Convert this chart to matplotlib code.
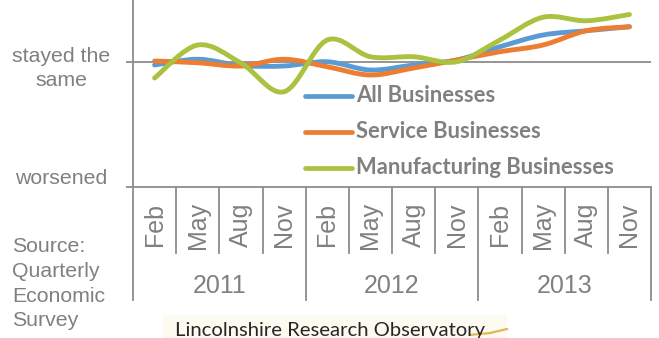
import numpy as np
import matplotlib
matplotlib.use("Agg")
import matplotlib.pyplot as plt
from matplotlib.path import Path
from matplotlib.patches import PathPatch, Rectangle
from matplotlib.transforms import blended_transform_factory

# quarterly survey: net position where 0 = stayed the same, -1 = worsened
months = ["Feb", "May", "Aug", "Nov"] * 3
years = ["2011", "2012", "2013"]
all_businesses = [-0.024, 0.022, -0.028, -0.032, 0.002, -0.064,
                  -0.024, 0.016, 0.122, 0.216, 0.250, 0.282]
service_businesses = [0.008, -0.006, -0.032, 0.022, -0.038, -0.104,
                      -0.048, 0.016, 0.082, 0.136, 0.250, 0.282]
manufacturing_businesses = [-0.128, 0.136, -0.008, -0.238, 0.176, 0.042,
                            0.042, 0.002, 0.176, 0.358, 0.330, 0.380]
series_names = ["All Businesses", "Service Businesses", "Manufacturing Businesses"]
series_colors = ["#5B9BD5", "#ED7D31", "#A9C23F"]

GREY = "#808080"
AXIS = "#8C8C8C"
W, H = 659, 338

fig = plt.figure(figsize=(W / 100, H / 100), dpi=100)
ax = fig.add_axes([133 / W, (H - 187) / H, (651 - 133) / W, 187 / H])
ax.set_xlim(0, 12)
ax.set_ylim(-1, 62 / 125)
for s in ["top", "right"]:
    ax.spines[s].set_visible(False)
for s in ["left", "bottom"]:
    ax.spines[s].set_color(AXIS)
    ax.spines[s].set_linewidth(1.3)
ax.set_xticks([])
ax.set_yticks([-1, 0])
ax.set_yticklabels([])
ax.tick_params(axis="y", length=5, width=1.3, color=AXIS, direction="out")
ax.axhline(0, color=AXIS, lw=1.3, zorder=1)


def smooth_path(xs, ys):
    # excel style smoothed line: cubic bezier through every point
    pts = np.column_stack([xs, ys])
    n = len(pts)
    verts = [pts[0]]
    codes = [Path.MOVETO]
    for i in range(n - 1):
        p0 = pts[max(i - 1, 0)]
        p1 = pts[i]
        p2 = pts[i + 1]
        p3 = pts[min(i + 2, n - 1)]
        c1 = p1 + (p2 - p0) / 6
        c2 = p2 - (p3 - p1) / 6
        verts += [c1, c2, p2]
        codes += [Path.CURVE4] * 3
    return Path(verts, codes)


xpos = np.arange(len(months)) + 0.5
for vals, col in zip([all_businesses, service_businesses, manufacturing_businesses],
                     series_colors):
    patch = PathPatch(smooth_path(xpos, np.array(vals)), fc="none", ec=col,
                      lw=3.5, capstyle="round", joinstyle="round", zorder=3)
    ax.add_patch(patch)

# legend drawn inside the plot
leg_y = [96, 132, 168]
for name, col, py in zip(series_names, series_colors, leg_y):
    fig.add_artist(plt.Line2D([305 / W, 352 / W], [1 - py / H, 1 - py / H],
                              color=col, lw=3.4, solid_capstyle="round"))
    fig.text(356 / W, 1 - py / H, name, color=GREY, fontsize=15.8,
             fontweight="bold", family="Lato", ha="left", va="center")

# category axis: months then years
tr = blended_transform_factory(ax.transData, ax.transAxes)
month_bottom = -(253 - 187) / 187
year_bottom = -(300 - 187) / 187
for i in range(len(months) + 1):
    low = year_bottom if i % 4 == 0 else month_bottom
    ax.plot([i, i], [0, low], color=AXIS, lw=1.3, transform=tr, clip_on=False)
for x, m in zip(xpos, months):
    ax.text(x, -(225 - 187) / 187, m, transform=tr, rotation=90, ha="center",
            va="center", color=GREY, fontsize=18, family="Liberation Sans")
for j, yr in enumerate(years):
    ax.text(4 * j + 2, -(286 - 187) / 187, yr, transform=tr, ha="center",
            va="center", color=GREY, fontsize=18, family="Liberation Sans")

# value labels and source note on the left
side = dict(color=GREY, fontsize=15.3, family="Liberation Sans", va="center")
fig.text(61 / W, 1 - 56 / H, "stayed the", ha="center", **side)
fig.text(61 / W, 1 - 81 / H, "same", ha="center", **side)
fig.text(61 / W, 1 - 178 / H, "worsened", ha="center", **side)
for k, line in enumerate(["Source:", "Quarterly", "Economic", "Survey"]):
    fig.text(12 / W, 1 - (247 + 24.5 * k) / H, line, ha="left", **side)

# observatory logo strip
fig.add_artist(Rectangle((163 / W, 0), (507 - 163) / W, 23 / H,
                         transform=fig.transFigure, fc="#FDFAF0", ec="none"))
fig.text(175 / W, 1 - 336 / H, "Lincolnshire Research Observatory",
         color="#262626", fontsize=14.6, family="Lato", ha="left",
         va="baseline")
fig.add_artist(plt.Line2D([470 / W, 490 / W, 507 / W],
                          [1 - 335 / H, 1 - 333 / H, 1 - 329 / H],
                          color="#D9A732", lw=1.6, alpha=0.8))

fig.savefig("out.png", dpi=100)
